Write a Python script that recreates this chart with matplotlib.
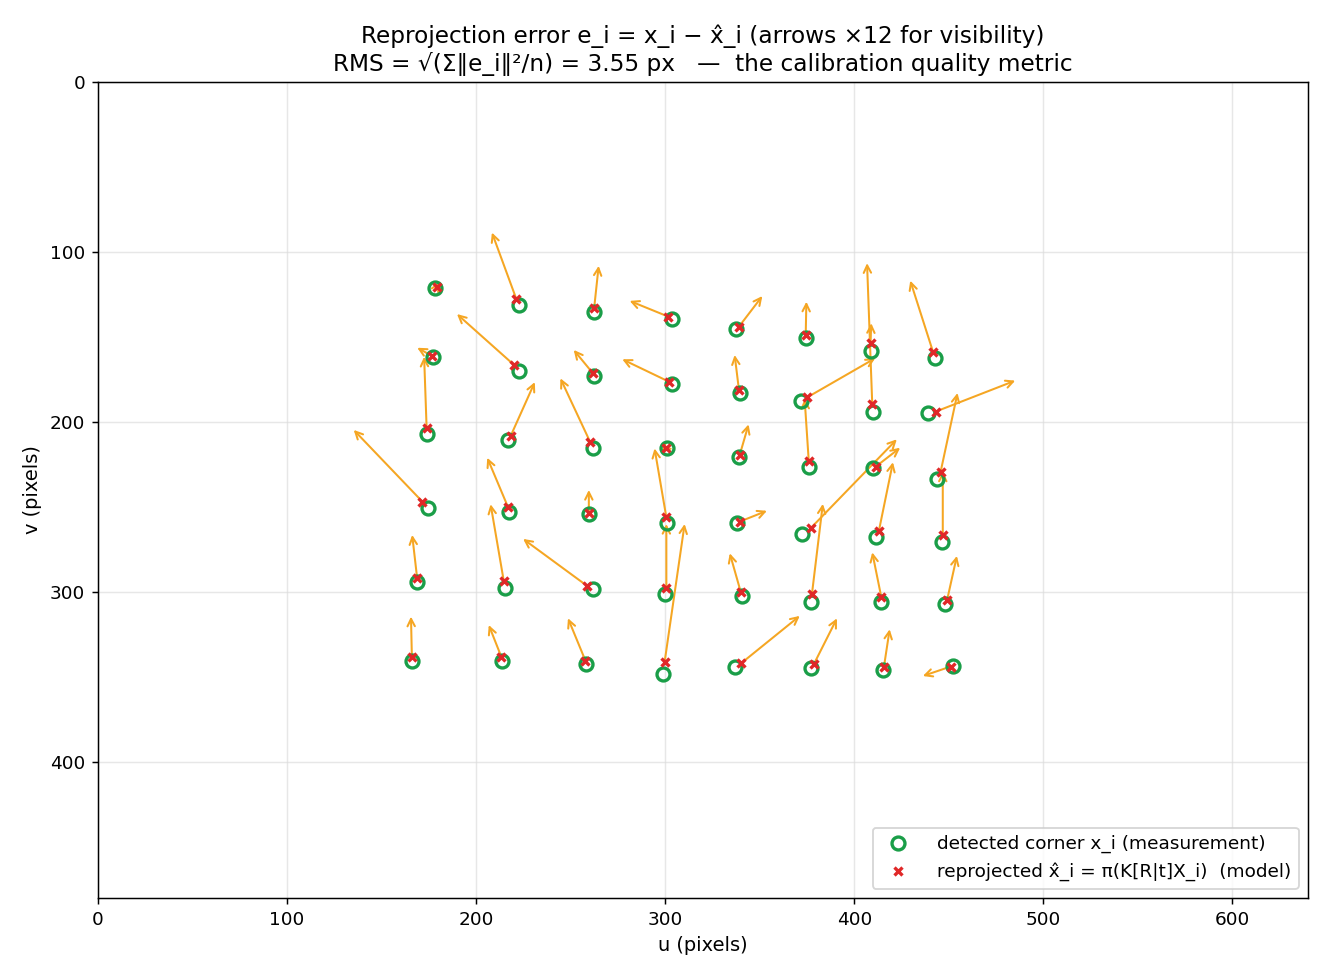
import numpy as np
import matplotlib
matplotlib.use("Agg")
import matplotlib.pyplot as plt

# detected corners (u, v) in pixels, column by column
det_u = [178.1, 177.2, 174.0, 174.6, 168.8, 166.0,
         222.7, 222.7, 216.9, 217.4, 215.5, 213.6,
         262.2, 262.4, 261.8, 259.6, 261.8, 258.3,
         303.4, 303.4, 301.1, 301.1, 300.0, 298.8,
         337.6, 339.4, 339.0, 338.1, 340.6, 337.1,
         374.3, 371.6, 375.9, 372.5, 377.2, 377.2,
         408.6, 409.8, 409.8, 411.6, 414.3, 415.1,
         442.5, 438.9, 443.9, 446.5, 448.1, 452.1]
det_v = [121.2, 162.0, 207.2, 250.4, 293.9, 340.4,
         131.2, 169.8, 210.6, 252.8, 297.8, 340.6,
         135.1, 172.9, 215.1, 254.3, 298.2, 342.4,
         139.2, 177.5, 215.1, 259.6, 301.4, 348.2,
         145.5, 182.7, 220.8, 259.6, 302.2, 343.9,
         150.8, 187.5, 226.3, 266.1, 306.1, 344.9,
         158.1, 193.9, 227.2, 267.8, 305.7, 345.9,
         162.5, 194.9, 233.7, 270.4, 307.1, 343.3]

# reprojected points
rep_u = [179.2, 176.4, 173.8, 171.6, 168.8, 166.0,
         221.3, 220.1, 218.3, 216.9, 214.6, 213.4,
         262.4, 261.8, 260.4, 259.6, 258.8, 257.8,
         301.6, 302.0, 300.6, 300.6, 300.6, 299.7,
         339.0, 339.0, 339.4, 339.4, 339.9, 340.2,
         374.3, 375.1, 375.9, 376.9, 377.6, 378.6,
         408.6, 409.5, 411.3, 413.0, 414.3, 415.7,
         441.6, 443.0, 445.6, 446.8, 449.1, 450.9]
rep_v = [120.6, 161.0, 203.6, 246.9, 292.0, 338.0,
         127.8, 166.5, 208.1, 250.2, 293.5, 338.4,
         133.1, 171.4, 212.0, 253.3, 296.5, 340.4,
         138.0, 176.3, 215.1, 256.1, 297.8, 341.0,
         143.9, 181.2, 219.4, 258.6, 299.8, 341.9,
         148.8, 185.5, 222.8, 262.5, 301.2, 342.5,
         153.4, 189.6, 226.3, 264.1, 303.1, 343.9,
         158.6, 193.9, 229.6, 266.5, 304.7, 343.9]

# error vectors (px), drawn scaled by 12
err_u = [0.13, -0.63, -0.11, -3.03, -0.22, -0.04,
         -1.08, -2.52, 1.06, -0.92, -0.58, -0.56,
         0.20, -0.85, -1.32, 0.00, -2.83, -0.77,
         -1.70, -2.06, -0.23, -0.52, 0.00, 0.88,
         1.03, -0.19, 0.39, 1.20, -0.48, 2.58,
         0.03, 3.00, -0.18, 3.80, 0.48, 1.02,
         0.03, -0.23, 1.08, 0.62, -0.40, 0.25,
         -1.00, 3.51, 0.75, 0.00, 0.43, -1.22]
err_v = [-0.25, -0.39, -3.50, -3.52, -2.13, -1.96,
         -3.27, -2.50, -2.63, -2.43, -3.76, -1.58,
         -2.08, -1.15, -3.14, -1.11, -2.31, -2.08,
         -0.77, -1.10, 0.25, -3.38, -3.15, -6.75,
         -1.50, -1.72, -1.50, -0.53, -1.88, -2.32,
         -1.63, -1.92, -3.03, -4.36, -4.42, -2.25,
         -0.96, -6.92, -0.93, -3.37, -2.20, -1.83,
         -3.48, -1.52, -3.89, -3.11, -2.16, 0.46]

scale = 12

fig = plt.figure(figsize=(10, 980 / 133), dpi=133)
ax = fig.add_axes([0.0737, 0.0837, 0.9098, 0.8326])

for u, v, du, dv in zip(rep_u, rep_v, err_u, err_v):
    ax.annotate("", xy=(u + scale * du, v + scale * dv), xytext=(u, v),
                arrowprops=dict(arrowstyle="->", color="#f5a623", lw=1.1,
                                shrinkA=0, shrinkB=0, mutation_scale=10),
                zorder=2)

ax.plot(det_u, det_v, "o", ms=7, mfc="none", mec="#1a9e48", mew=1.8,
        ls="none", label="detected corner x_i (measurement)", zorder=3)
ax.plot(rep_u, rep_v, "x", ms=4.5, color="#e02828", mew=1.8,
        ls="none", label="reprojected x̂_i = π(K[R|t]X_i)  (model)", zorder=4)

ax.set_xlim(0, 640)
ax.set_ylim(480, 0)
ax.set_xticks([0, 100, 200, 300, 400, 500, 600])
ax.set_yticks([0, 100, 200, 300, 400])
ax.grid(True, color="#dddddd", lw=0.8, alpha=0.7)
ax.set_axisbelow(True)
ax.tick_params(labelsize=10)
ax.set_xlabel("u (pixels)", fontsize=10.5)
ax.set_ylabel("v (pixels)", fontsize=10.5)
ax.set_title("Reprojection error e_i = x_i − x̂_i (arrows ×12 for visibility)\n"
             "RMS = √(Σ‖e_i‖²/n) = 3.55 px   —  the calibration quality metric",
             fontsize=12.6)
ax.legend(loc="lower right", fontsize=10, handletextpad=1.1)

fig.savefig("out.png", dpi=133)
